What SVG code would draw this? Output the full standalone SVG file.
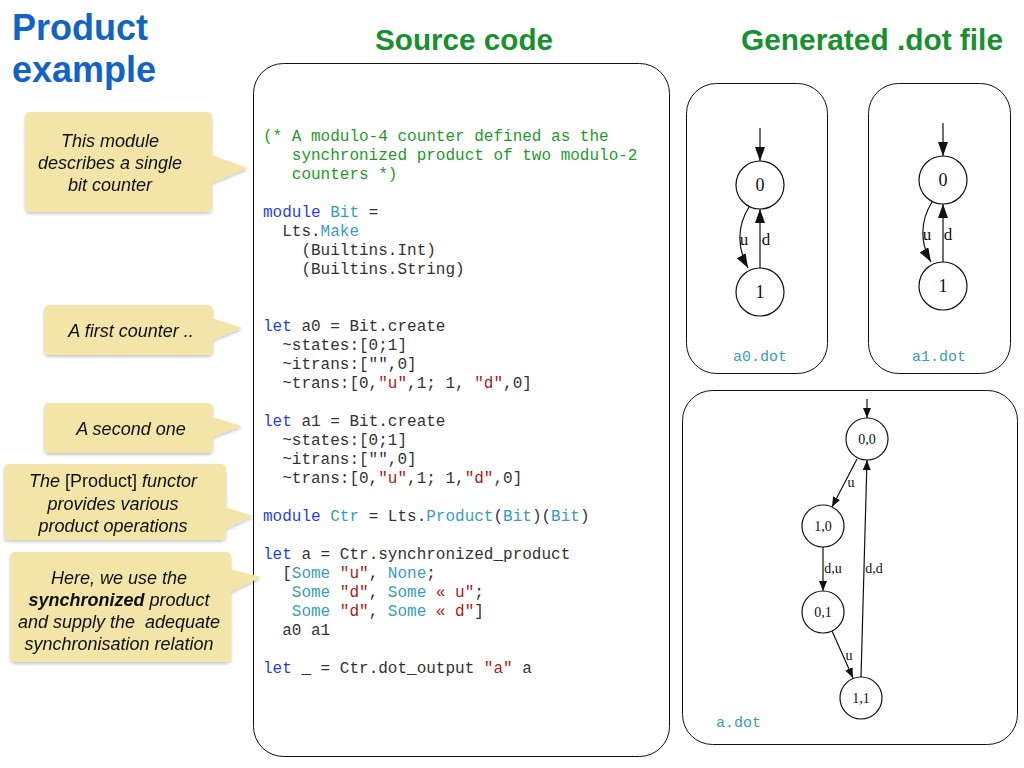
<svg xmlns="http://www.w3.org/2000/svg" width="1024" height="768" viewBox="0 0 1024 768">
  <style>
    .title{font-family:"Liberation Sans",Arial,sans-serif;font-weight:bold}
    .code{font-family:"Liberation Mono","Courier New",monospace;font-size:16px;fill:#333;white-space:pre}
    .kw{fill:#1f3ff0}
    .md{fill:#3a9cc0}
    .st{fill:#b01818}
    .cm{fill:#1f9a2a}
    .note{fill:#f2e5a7}
    .ntext{font-family:"Liberation Sans",Arial,sans-serif;font-size:18px;font-style:italic;fill:#111;text-anchor:middle;white-space:pre}
    .panel{fill:#fff;stroke:#111;stroke-width:1}
    .fname{font-family:"Liberation Mono","Courier New",monospace;font-size:15px;fill:#3a9cc0}
    .state{fill:#fff;stroke:#111;stroke-width:1.2}
    .lbl{font-family:"Liberation Serif","Times New Roman",serif;fill:#111;text-anchor:middle}
    .edge{fill:none;stroke:#111;stroke-width:1.2}
  </style>
  <defs>
    <marker id="arrowBig" markerUnits="userSpaceOnUse" markerWidth="16" markerHeight="12" refX="14" refY="5" orient="auto">
      <path d="M0,0 L14,5 L0,10 Z" fill="#111"/>
    </marker>
    <marker id="arrowSmall" markerUnits="userSpaceOnUse" markerWidth="12" markerHeight="10" refX="10" refY="4" orient="auto">
      <path d="M0,0 L10,4 L0,8 Z" fill="#111"/>
    </marker>
    <filter id="shadow" x="-10%" y="-10%" width="130%" height="140%">
      <feDropShadow dx="0" dy="2" stdDeviation="1.5" flood-color="#000" flood-opacity="0.22"/>
    </filter>
  </defs>

  <!-- headings -->
  <g id="headings">
    <text class="title" x="12" y="40" font-size="36" fill="#1264c4">Product</text>
    <text class="title" x="12" y="82" font-size="36" fill="#1264c4">example</text>
    <text class="title" x="375" y="50" font-size="30" fill="#17912f" textLength="178" lengthAdjust="spacingAndGlyphs">Source code</text>
    <text class="title" x="741" y="50" font-size="30" fill="#17912f" textLength="262" lengthAdjust="spacingAndGlyphs">Generated .dot file</text>
  </g>

  <!-- source listing -->
  <g id="source" xml:space="preserve">
    <rect class="panel" x="253.5" y="63.5" width="416" height="693" rx="30"/>
    <text class="code cm" x="263" y="141">(* A modulo-4 counter defined as the</text>
    <text class="code cm" x="263" y="160">   synchronized product of two modulo-2</text>
    <text class="code cm" x="263" y="179">   counters *)</text>
    <text class="code" x="263" y="217"><tspan class="kw">module</tspan> <tspan class="md">Bit</tspan> =</text>
    <text class="code" x="263" y="236">  Lts.<tspan class="md">Make</tspan></text>
    <text class="code" x="263" y="255">    (Builtins.Int)</text>
    <text class="code" x="263" y="274">    (Builtins.String)</text>
    <text class="code" x="263" y="331"><tspan class="kw">let</tspan> a0 = Bit.create</text>
    <text class="code" x="263" y="350">  ~states:[0;1]</text>
    <text class="code" x="263" y="369">  ~itrans:["",0]</text>
    <text class="code" x="263" y="388">  ~trans:[0,<tspan class="st">"u"</tspan>,1; 1, <tspan class="st">"d"</tspan>,0]</text>
    <text class="code" x="263" y="426"><tspan class="kw">let</tspan> a1 = Bit.create</text>
    <text class="code" x="263" y="445">  ~states:[0;1]</text>
    <text class="code" x="263" y="464">  ~itrans:["",0]</text>
    <text class="code" x="263" y="483">  ~trans:[0,<tspan class="st">"u"</tspan>,1; 1,<tspan class="st">"d"</tspan>,0]</text>
    <text class="code" x="263" y="521"><tspan class="kw">module</tspan> <tspan class="md">Ctr</tspan> = Lts.<tspan class="md">Product</tspan>(<tspan class="md">Bit</tspan>)(<tspan class="md">Bit</tspan>)</text>
    <text class="code" x="263" y="559"><tspan class="kw">let</tspan> a = Ctr.synchronized_product</text>
    <text class="code" x="263" y="578">  [<tspan class="md">Some</tspan> <tspan class="st">"u"</tspan>, <tspan class="md">None</tspan>;</text>
    <text class="code" x="263" y="597">   <tspan class="md">Some</tspan> <tspan class="st">"d"</tspan>, <tspan class="md">Some</tspan> <tspan class="st">« u"</tspan>;</text>
    <text class="code" x="263" y="616">   <tspan class="md">Some</tspan> <tspan class="st">"d"</tspan>, <tspan class="md">Some</tspan> <tspan class="st">« d"</tspan>]</text>
    <text class="code" x="263" y="635">  a0 a1</text>
    <text class="code" x="263" y="673"><tspan class="kw">let</tspan> _ = Ctr.dot_output <tspan class="st">"a"</tspan> a</text>
  </g>

  <!-- annotations -->
  <g id="note-module" filter="url(#shadow)">
    <rect class="note" x="25" y="112" width="187" height="100" rx="5"/>
    <polygon class="note" points="211,155 248,168 211,183"/>
    <text class="ntext" x="110" y="147">This module</text>
    <text class="ntext" x="110" y="169">describes a single</text>
    <text class="ntext" x="110" y="191">bit counter</text>
  </g>
  <g id="note-first" filter="url(#shadow)">
    <rect class="note" x="44" y="305" width="169" height="50" rx="5"/>
    <polygon class="note" points="212,318 242,328 212,340"/>
    <text class="ntext" x="131" y="337">A first counter ..</text>
  </g>
  <g id="note-second" filter="url(#shadow)">
    <rect class="note" x="44" y="403" width="169" height="50" rx="5"/>
    <polygon class="note" points="212,417 242,426 212,437"/>
    <text class="ntext" x="131" y="435">A second one</text>
  </g>
  <g id="note-functor" filter="url(#shadow)">
    <rect class="note" x="4" y="464" width="222" height="76" rx="5"/>
    <polygon class="note" points="225,507 253,516 225,529"/>
    <text class="ntext" x="113" y="487">The <tspan font-style="normal">[Product]</tspan> functor</text>
    <text class="ntext" x="113" y="510">provides various</text>
    <text class="ntext" x="113" y="532">product operations</text>
  </g>
  <g id="note-sync" filter="url(#shadow)">
    <rect class="note" x="10" y="552" width="221" height="110" rx="5"/>
    <polygon class="note" points="230,569 261,577 230,592"/>
    <text class="ntext" x="119" y="584">Here, we use the</text>
    <text class="ntext" x="119" y="606"><tspan font-weight="bold">synchronized</tspan> product</text>
    <text class="ntext" x="119" y="628">and supply the  adequate</text>
    <text class="ntext" x="119" y="650">synchronisation relation</text>
  </g>

  <!-- a0.dot -->
  <g id="a0-dot">
    <rect class="panel" x="686.5" y="83.5" width="141" height="290" rx="30"/>
    <text class="fname" x="760" y="361" text-anchor="middle">a0.dot</text>
    <g id="a0-s0"><circle class="state" cx="760" cy="185" r="24"/><text class="lbl" x="760" y="191" font-size="18">0</text></g>
    <g id="a0-s1"><circle class="state" cx="760" cy="292" r="24"/><text class="lbl" x="760" y="298" font-size="18">1</text></g>
  </g>
  <!-- a1.dot -->
  <g id="a1-dot">
    <rect class="panel" x="868.5" y="83.5" width="142" height="290" rx="30"/>
    <text class="fname" x="939" y="361" text-anchor="middle">a1.dot</text>
    <g id="a1-s0"><circle class="state" cx="943" cy="180" r="24"/><text class="lbl" x="943" y="186" font-size="18">0</text></g>
    <g id="a1-s1"><circle class="state" cx="943" cy="286" r="24"/><text class="lbl" x="943" y="292" font-size="18">1</text></g>
  </g>
  <!-- a.dot -->
  <g id="a-dot">
    <rect class="panel" x="682.5" y="390.5" width="335" height="354" rx="30"/>
    <text class="fname" x="716" y="727">a.dot</text>
    <g id="a-s00"><circle class="state" cx="867" cy="439" r="21"/><text class="lbl" x="867" y="444" font-size="14">0,0</text></g>
    <g id="a-s10"><circle class="state" cx="823" cy="526" r="21"/><text class="lbl" x="823" y="531" font-size="14">1,0</text></g>
    <g id="a-s01"><circle class="state" cx="823" cy="612" r="21"/><text class="lbl" x="823" y="617" font-size="14">0,1</text></g>
    <g id="a-s11"><circle class="state" cx="861" cy="698" r="21"/><text class="lbl" x="861" y="703" font-size="14">1,1</text></g>
  </g>

  <!-- transitions -->
  <g id="connectors">
    <path class="edge" d="M760,128 L760,161" marker-end="url(#arrowBig)"/>
    <path class="edge" d="M749,207 C737,226 737,248 748,268" marker-end="url(#arrowBig)"/>
    <path class="edge" d="M760,268 L760,209" marker-end="url(#arrowBig)"/>
    <text class="lbl" x="744" y="245" font-size="17">u</text>
    <text class="lbl" x="766" y="245" font-size="17">d</text>

    <path class="edge" d="M943,123 L943,156" marker-end="url(#arrowBig)"/>
    <path class="edge" d="M932,202 C920,221 920,243 931,262" marker-end="url(#arrowBig)"/>
    <path class="edge" d="M943,262 L943,204" marker-end="url(#arrowBig)"/>
    <text class="lbl" x="927" y="240" font-size="17">u</text>
    <text class="lbl" x="948" y="240" font-size="17">d</text>

    <path class="edge" d="M867,399 L867,418" marker-end="url(#arrowSmall)"/>
    <path class="edge" d="M857,459 L832,507" marker-end="url(#arrowSmall)"/>
    <text class="lbl" x="851" y="487" font-size="14">u</text>
    <path class="edge" d="M823,547 L823,591" marker-end="url(#arrowSmall)"/>
    <text class="lbl" x="833" y="573" font-size="14">d,u</text>
    <path class="edge" d="M832,631 L853,678" marker-end="url(#arrowSmall)"/>
    <text class="lbl" x="849" y="660" font-size="14">u</text>
    <path class="edge" d="M861,677 L867,460" marker-end="url(#arrowSmall)"/>
    <text class="lbl" x="874" y="573" font-size="14">d,d</text>
  </g>
</svg>
